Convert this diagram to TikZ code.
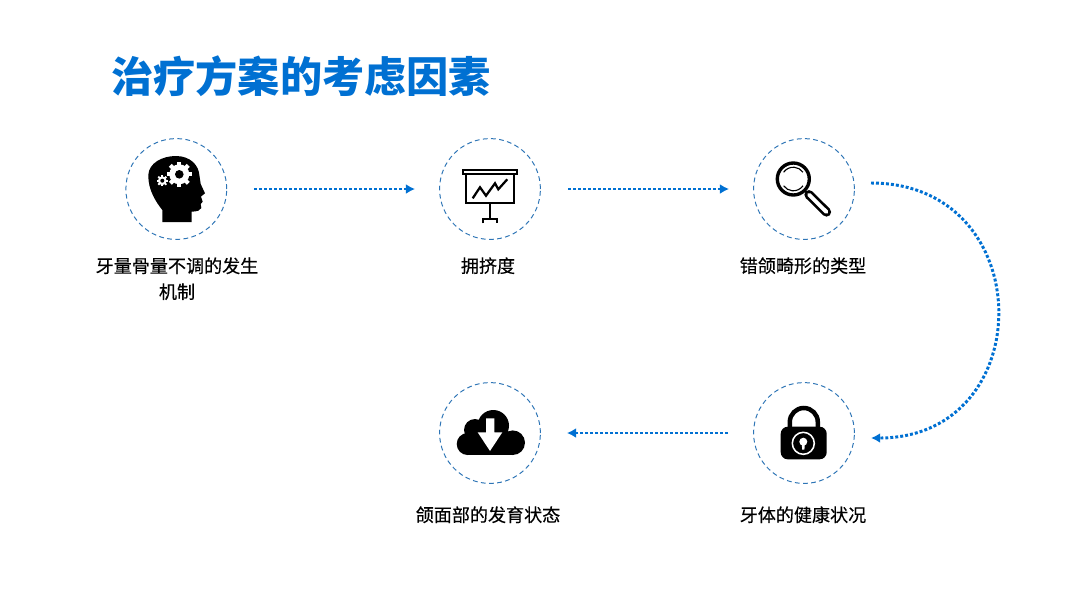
\documentclass[tikz,border=0pt]{standalone}
\usepackage{fontspec}
\setmainfont{Noto Sans CJK SC}
\newfontfamily\capfont[RawFeature={embolden=0.35}]{Noto Sans CJK SC}
\usepackage{xcolor}
\definecolor{tblue}{RGB}{0,112,210}
\definecolor{ringblue}{RGB}{46,117,182}
\usetikzlibrary{arrows.meta, positioning, calc}
\tikzset{
  iconring/.style={circle, draw=ringblue, dash pattern=on 3.4pt off 2.4pt, line width=0.7pt, minimum size=2.52cm, inner sep=0pt},
  caption/.style={font=\capfont\fontsize{12.85pt}{18.4pt}\selectfont, align=center, text=black},
  flow/.style={draw=tblue, line width=2.1pt, dash pattern=on 2.1pt off 1.45pt, -{Latex[length=6.5pt,width=7pt]}, shorten <=0.68cm, shorten >=0.6cm},
  iconline/.style={draw=black, line width=1.6pt}
}
\begin{document}
\begin{tikzpicture}[x=0.025cm, y=-0.025cm]
  \useasboundingbox (0,0) rectangle (1080,608);

  % Title
  \node[anchor=west, inner sep=0pt, text=tblue, font=\fontsize{30pt}{32pt}\selectfont\bfseries] (title) at (111,76) {治疗方案的考虑因素};

  % Rings
  \node[iconring] (headring)  at (176.3,189) {};
  \node[iconring] (chartring) at (490,189) {};
  \node[iconring] (lensring)  at (804,189) {};
  \node[iconring] (lockring)  at (804,433) {};
  \node[iconring] (cloudring) at (490,433) {};

  % --- Head icon ---
  \fill[black] (162.3,222) -- (162.3,210) .. controls (156,202) and (148,190) .. (148.3,175) .. controls (149,163) and (162,156) .. (176,156) .. controls (190,156) and (199,165) .. (199.5,176) -- (200.7,184) -- (205,193.3) -- (201,196.5) -- (202.7,201.7) -- (200.7,204) -- (201.3,208) .. controls (199,211) .. (191.7,211.7) -- (191.7,222) -- cycle;
  \fill[white] (179.3,174.3) circle[radius=10];
  \foreach \a in {0,45,...,315}
    \draw[white, line width=3pt] (179.3,174.3) -- ++(\a:12.7);
  \fill[black] (179.3,174.3) circle[radius=4.3];
  \fill[white] (162.3,180.7) circle[radius=4.4];
  \foreach \a in {0,45,...,315}
    \draw[white, line width=1.3pt] (162.3,180.7) -- ++(\a:5.7);
  \fill[black] (162.3,180.7) circle[radius=2];

  % --- Chart icon ---
  \draw[iconline] (462.7,170) rectangle (517.3,174.3);
  \draw[iconline] (466,174.3) rectangle (514,203.3);
  \draw[iconline] (490,203.3) -- (490,219.3);
  \draw[iconline] (482.7,223.3) -- (482.7,219.3) -- (497.3,219.3) -- (497.3,223.3);
  \draw[iconline] (472.7,198.3) -- (480,187.3) -- (486,195.7) -- (495,183.3) -- (498.3,189.3) -- (507.3,179.3);

  % --- Lens icon ---
  \draw[black, line width=2.4pt] (793.3,179) circle[radius=16];
  \draw[black, line width=0.8pt] (793.3,179) ++(215:11.8) arc[start angle=215, end angle=325, radius=11.8];
  \draw[black, line width=0.8pt] (793.3,179) ++(35:11.8) arc[start angle=35, end angle=145, radius=11.8];
  \draw[black, line width=1.4pt] (805,190.7) -- (809,194.7);
  \draw[black, line width=6.6pt, line cap=round] (809,194.7) -- (826.5,212);
  \draw[white, line width=2.8pt, line cap=round] (809,194.7) -- (826.5,212);

  % --- Lock icon ---
  \draw[black, line width=3.2pt] (789.8,428) -- (789.8,422) arc[start angle=180, end angle=360, radius=14] -- (817.8,428);
  \fill[black, rounded corners=5pt] (780.7,426.7) rectangle (826.7,459.3);
  \draw[white, line width=1.1pt] (803.3,443.3) circle[radius=11];
  \fill[white] (803.3,441.7) circle[radius=4];
  \fill[white] (801.6,442) -- (805,442) -- (804.4,449.5) -- (802.2,449.5) -- cycle;

  % --- Cloud icon ---
  \fill[black] (467.7,444) circle[radius=11];
  \fill[black] (475,430) circle[radius=11];
  \fill[black] (493.3,425.7) circle[radius=15.7];
  \fill[black] (512.7,442.7) circle[radius=12.3];
  \fill[black] (467.7,436) rectangle (512.7,455);
  \fill[white] (486,418.3) -- (494.3,418.3) -- (494.3,432.3) -- (502.3,432.3) -- (490,451) -- (477.7,432.3) -- (486,432.3) -- cycle;

  % Captions
  \node[caption] (headcap)  at (177,278.7) {牙量骨量不调的发生\\机制};
  \node[caption] (chartcap) at (488,265.7) {拥挤度};
  \node[caption] (lenscap)  at (803,265.7) {错颌畸形的类型};
  \node[caption] (lockcap)  at (803,514.7) {牙体的健康状况};
  \node[caption] (cloudcap) at (488,514.7) {颌面部的发育状态};

  % Connectors
  \draw[flow] (headring) -- (chartring);
  \draw[flow] (chartring) -- (lensring);
  \draw[flow, shorten <=0.625cm, shorten >=0.65cm] (lockring) -- (cloudring);
  \coordinate (arcstart) at (871,183);
  \coordinate (arcend) at (871,438);
  \draw[flow, shorten <=0pt, shorten >=0pt] (arcstart) to[out=0, in=0, looseness=1.7] (arcend);
\end{tikzpicture}
\end{document}
